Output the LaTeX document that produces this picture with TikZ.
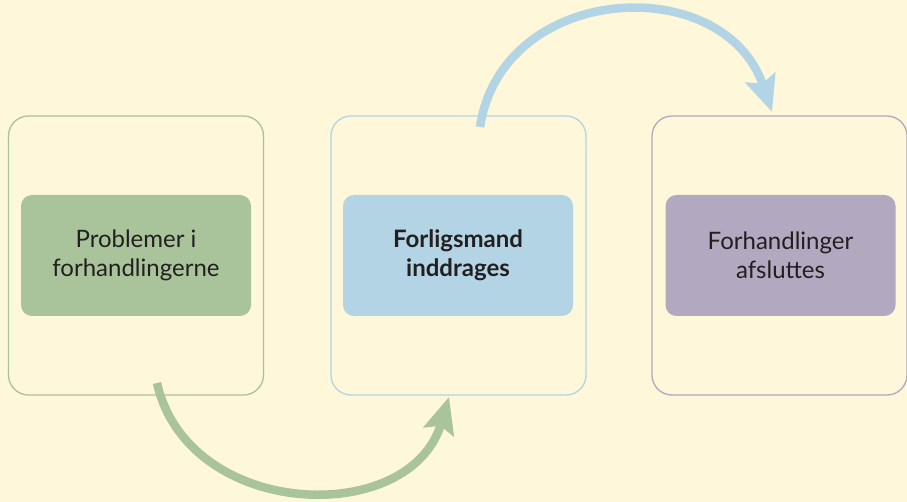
\documentclass[tikz,border=0pt]{standalone}
\usepackage{fontspec}
\setmainfont{Lato}
\usetikzlibrary{arrows.meta}
\definecolor{bg}{HTML}{FEF7D9}
\definecolor{cgreen}{HTML}{A9C49A}
\definecolor{cblue}{HTML}{B3D4E4}
\definecolor{cpurple}{HTML}{B2A8C0}
\definecolor{txt}{HTML}{231F20}
\begin{document}
\begin{tikzpicture}[x=1pt,y=-1pt,
  outerbox/.style={draw=#1, line width=1.3pt, rounded corners=20pt, minimum width=255pt, minimum height=279pt, inner sep=0pt},
  innerbox/.style={fill=#1, rounded corners=11pt, minimum width=230pt, minimum height=121pt, inner sep=0pt, align=center, text=txt, font=\fontsize{24}{29}\selectfont},
  flow/.style={draw=#1, line width=8.5pt, -{Stealth[length=36pt,width=31pt,inset=6pt]}}]
\fill[bg] (0,0) rectangle (907,502);
\useasboundingbox (0,0) rectangle (907,502);
\node[outerbox=cgreen] (o1) at (136,255.5) {};
\node[outerbox=cblue] (o2) at (458.5,255.5) {};
\node[outerbox=cpurple] (o3) at (779.5,255.5) {};
\node[innerbox=cgreen] (i1) at (136,255.5) {Problemer i\\forhandlingerne};
\node[innerbox=cblue, font=\fontsize{24}{29}\selectfont\bfseries] (i2) at (458,255.5) {Forligsmand\\inddrages};
\node[innerbox=cpurple] (i3) at (780.5,255.5) {Forhandlinger\\afsluttes};
\coordinate (g0) at (157,383);
\coordinate (g1) at (449,397);
\coordinate (b0) at (480,127);
\coordinate (b1) at (772,112);
\draw[flow=cgreen] (g0) .. controls (188,520) and (410,528) .. (g1);
\draw[flow=cblue] (b0) .. controls (502,-18) and (724,-30) .. (b1);
\end{tikzpicture}
\end{document}
